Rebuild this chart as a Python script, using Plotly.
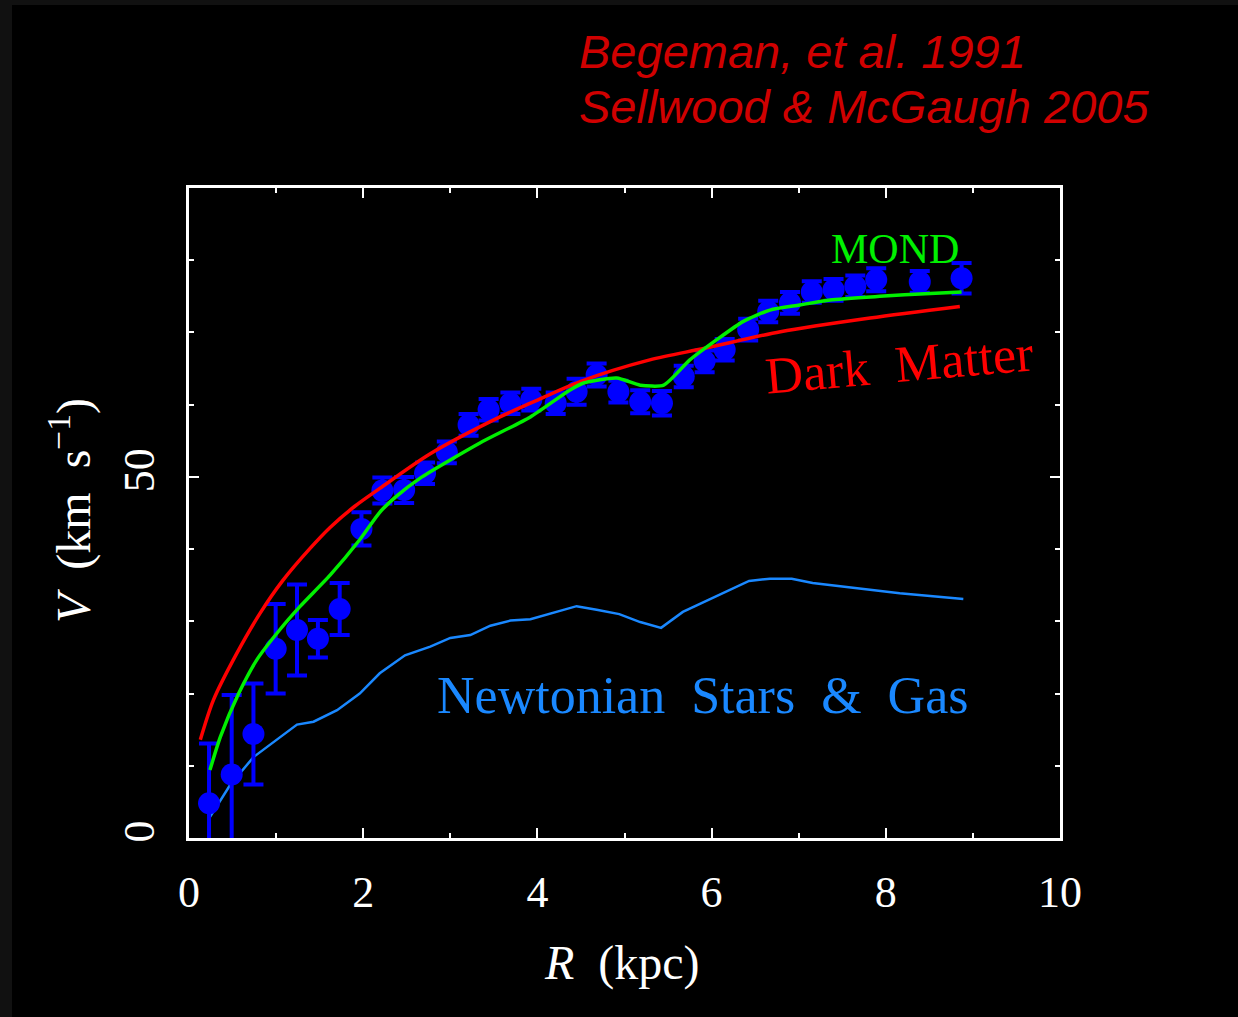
import plotly.graph_objects as go

# Observed rotation curve (radius in kpc, velocity and 1-sigma error in km/s)
r_obs = [0.23, 0.49, 0.74, 0.995, 1.24, 1.48, 1.73, 1.98, 2.22, 2.47, 2.71, 2.96,
         3.21, 3.44, 3.69, 3.93, 4.21, 4.45, 4.68, 4.93, 5.18, 5.43, 5.68, 5.92,
         6.15, 6.42, 6.65, 6.90, 7.15, 7.40, 7.65, 7.89, 8.39, 8.87]
v_obs = [4.8, 8.8, 14.4, 26.2, 28.8, 27.6, 31.7, 42.8, 48.1, 48.2, 50.5, 53.4,
         57.2, 59.3, 60.2, 60.7, 60.2, 61.8, 64.1, 61.8, 60.4, 60.2, 63.9, 66.0,
         67.6, 70.4, 72.9, 74.1, 75.6, 75.9, 76.4, 77.3, 77.0, 77.5]
v_err = [8.3, 11.0, 7.0, 6.2, 6.3, 2.6, 3.6, 2.3, 1.8, 1.8, 1.5, 1.5,
         1.5, 1.5, 1.5, 1.5, 1.5, 1.8, 1.6, 1.5, 1.6, 1.7, 1.5, 1.5,
         1.5, 1.5, 1.5, 1.5, 1.5, 1.5, 1.5, 1.6, 1.5, 2.1]

# Dark matter halo fit
r_dm = [0.13, 0.28, 0.55, 0.815, 1.08, 1.39, 1.62, 1.90, 2.19, 2.77, 3.57, 3.92,
        4.49, 5.29, 5.92, 6.79, 7.82, 8.85]
v_dm = [13.6, 19.1, 25.6, 31.1, 35.7, 40.1, 43.0, 45.9, 48.4, 53.2, 58.3, 60.2,
        63.2, 66.2, 67.8, 70.1, 72.0, 73.6]

# MOND prediction
r_mond = [0.24, 0.36, 0.57, 0.78, 1.04, 1.27, 1.62, 1.96, 2.19, 2.38, 2.65, 3.34,
          3.92, 4.37, 4.53, 4.91, 5.18, 5.45, 5.75, 6.06, 6.36, 6.67, 7.01, 7.36,
          7.93, 8.51, 8.87]
v_mond = [9.4, 14.0, 20.0, 24.7, 28.8, 32.0, 36.4, 41.3, 45.1, 47.3, 49.8, 54.7,
          58.3, 62.0, 63.0, 63.7, 62.7, 62.7, 66.2, 69.0, 71.5, 73.1, 73.8, 74.5,
          75.0, 75.4, 75.6]

# Newtonian contribution of stars and gas
r_newt = [0.24, 0.47, 0.74, 1.01, 1.24, 1.43, 1.70, 1.96, 2.19, 2.48, 2.77, 3.00,
          3.23, 3.46, 3.69, 3.92, 4.20, 4.45, 4.68, 4.94, 5.18, 5.42, 5.67, 5.92,
          6.18, 6.43, 6.67, 6.92, 7.16, 7.66, 8.16, 8.89]
v_newt = [2.9, 7.3, 11.2, 13.6, 15.7, 16.1, 17.7, 20.0, 22.8, 25.3, 26.5, 27.7,
          28.1, 29.4, 30.1, 30.3, 31.3, 32.1, 31.6, 31.0, 29.9, 29.1, 31.3, 32.7,
          34.2, 35.6, 35.9, 35.9, 35.3, 34.6, 33.9, 33.1]

x_ticks = [0, 2, 4, 6, 8, 10]
y_ticks = [0, 50]

RED = "#ff0000"
GREEN = "#00f000"
BLUE = "#0000ff"
SKY = "#1a88ff"

fig = go.Figure()

fig.add_trace(go.Scatter(x=r_newt, y=v_newt, mode="lines",
                         line=dict(color=SKY, width=2.5), showlegend=False))
fig.add_trace(go.Scatter(x=r_obs, y=v_obs, mode="markers",
                         marker=dict(color=BLUE, size=22, symbol="circle"),
                         error_y=dict(type="data", array=v_err, color=BLUE,
                                      thickness=4, width=10),
                         showlegend=False))
fig.add_trace(go.Scatter(x=r_dm, y=v_dm, mode="lines", line_shape="spline",
                         line=dict(color=RED, width=3.5, smoothing=0.8),
                         showlegend=False))
fig.add_trace(go.Scatter(x=r_mond, y=v_mond, mode="lines", line_shape="spline",
                         line=dict(color=GREEN, width=3.5, smoothing=0.6),
                         showlegend=False))

serif = "Liberation Serif"

axis_common = dict(
    showline=True, linecolor="white", linewidth=3, mirror="allticks",
    ticks="inside", tickcolor="white", tickwidth=2,
    showgrid=False, zeroline=False,
    tickfont=dict(family=serif, size=44, color="white"),
)

fig.update_xaxes(range=[0, 10], tickvals=x_ticks, ticklen=10,
                 minor=dict(dtick=1, ticks="inside", ticklen=5,
                            tickcolor="white", tickwidth=2),
                 ticklabelstandoff=13, **axis_common)
fig.update_yaxes(range=[0, 90], tickvals=y_ticks, ticklen=10, tickangle=-90,
                 minor=dict(dtick=10, ticks="inside", ticklen=5,
                            tickcolor="white", tickwidth=2),
                 ticklabelstandoff=14, **axis_common)

red_title_font = dict(family="Liberation Sans", size=47, color="#d00000",
                      style="italic")

annotations = [
    dict(text="Begeman, et al. 1991", xref="paper", yref="paper",
         x=(577 - 189) / 871, y=(838 - 52) / 650, xanchor="left", yanchor="middle",
         showarrow=False, font=red_title_font),
    dict(text="Sellwood & McGaugh 2005", xref="paper", yref="paper",
         x=(577 - 189) / 871, y=(838 - 106) / 650, xanchor="left", yanchor="middle",
         showarrow=False, font=red_title_font),
    dict(text="MOND", x=8.1, y=81.6, xref="x", yref="y", showarrow=False,
         xanchor="center", yanchor="middle",
         font=dict(family=serif, size=42, color=GREEN)),
    dict(text="Dark  Matter", x=8.16, y=65.6, xref="x", yref="y", showarrow=False,
         xanchor="center", yanchor="middle",
         textangle=-5, font=dict(family=serif, size=52, color=RED)),
    dict(text="Newtonian  Stars  &amp;  Gas", x=5.9, y=19.8, xref="x", yref="y",
         xanchor="center", yanchor="middle",
         showarrow=False, font=dict(family=serif, size=52, color=SKY)),
    dict(text="<i>V</i>  (km  s<sup>\u22121</sup>)", xref="paper", yref="paper",
         x=(70 - 189) / 871, y=(838 - 510) / 650, textangle=-90,
         xanchor="center", yanchor="middle",
         showarrow=False, font=dict(family=serif, size=48, color="white")),
    dict(text="<i>R</i>  (kpc)", xref="paper", yref="paper",
         x=(622 - 189) / 871, y=(838 - 963) / 650, showarrow=False,
         xanchor="center", yanchor="middle",
         font=dict(family=serif, size=48, color="white")),
]

fig.update_layout(
    width=1238, height=1017,
    margin=dict(l=189, r=178, t=188, b=179, autoexpand=False),
    paper_bgcolor="#111111", plot_bgcolor="black",
    annotations=annotations,
    shapes=[dict(type="rect", xref="paper", yref="paper", layer="below",
                 x0=(12 - 189) / 871, x1=(1245 - 189) / 871,
                 y0=(838 - 1025) / 650, y1=(838 - 5) / 650,
                 fillcolor="black", line=dict(width=0))],
)

fig.write_html("out.html")
